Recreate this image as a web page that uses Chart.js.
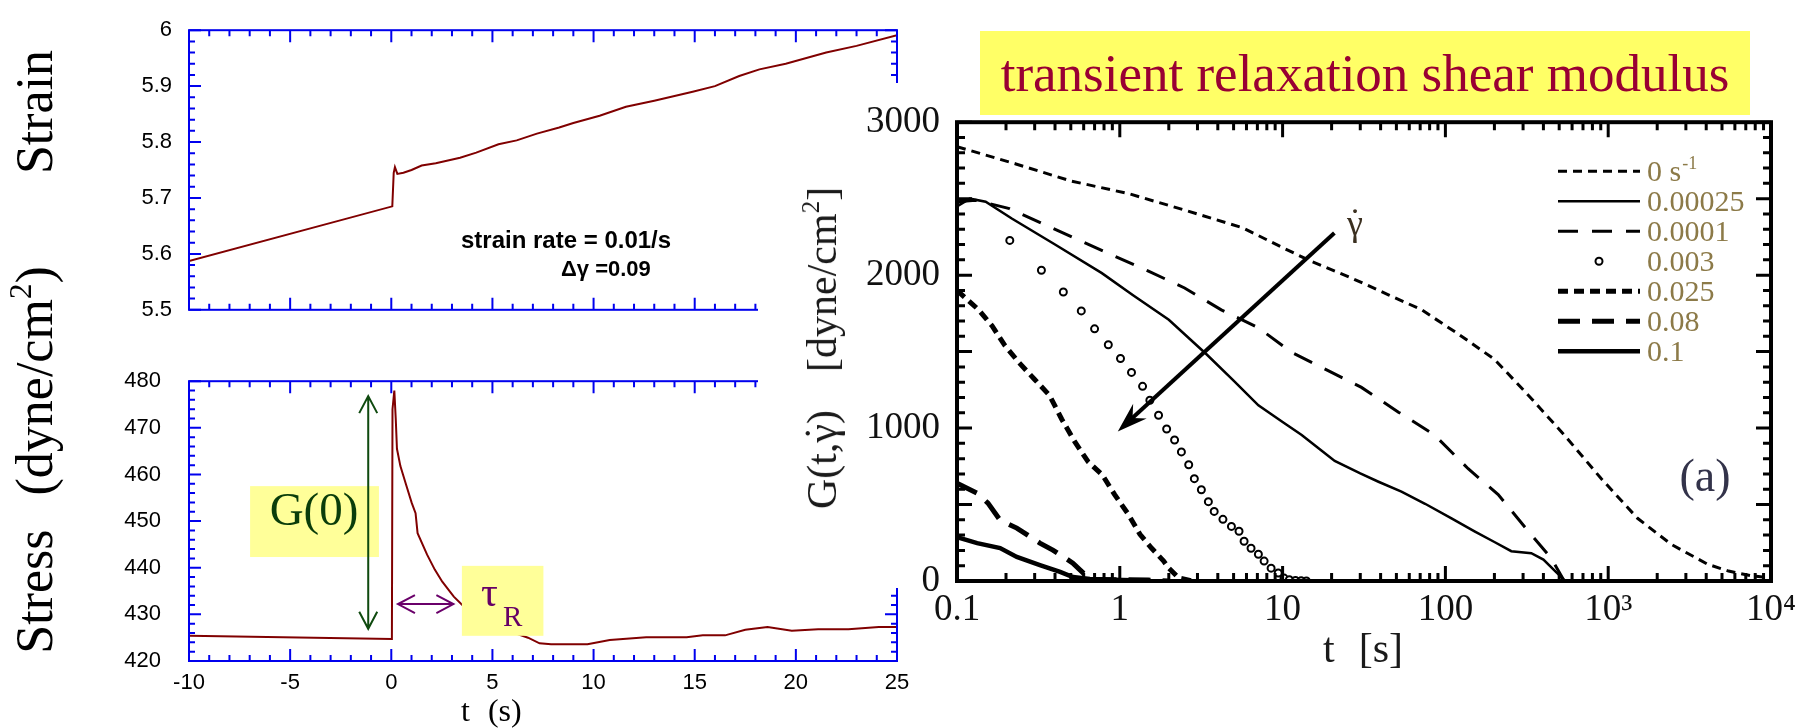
<!DOCTYPE html>
<html><head><meta charset="utf-8">
<script src="https://cdn.jsdelivr.net/npm/chart.js@4.4.1/dist/chart.umd.min.js"></script>
<style>
html,body{margin:0;padding:0;background:#fff;}
#page{position:relative;width:1813px;height:728px;overflow:hidden;background:#fff;}
canvas{position:absolute;}
.t{position:absolute;white-space:nowrap;line-height:1;z-index:4;}
.serif{font-family:'Liberation Serif','Times New Roman',serif;}
.sans{font-family:'Liberation Sans',Arial,sans-serif;}
.rot{transform:translate(-50%,-50%) rotate(-90deg);}
.dotg{position:relative;}
.dotg span{position:absolute;left:0;width:100%;top:0;text-align:center;}
</style></head>
<body><div id="page">
<canvas id="cStrain" width="920" height="340" style="left:0;top:0;z-index:1"></canvas>
<canvas id="cStress" width="920" height="388" style="left:0;top:340px;z-index:1"></canvas>
<canvas id="cG" width="1055" height="645" style="left:758px;top:83px;z-index:2"></canvas>

<div class="t serif rot" style="left:34.5px;top:112px;font-size:52px">Strain</div>
<div class="t serif rot" style="left:34.5px;top:460px;font-size:52px">Stress<span style="display:inline-block;width:34px"></span>(dyne/cm<span style="font-size:31px;position:relative;top:-21px">2</span>)</div>
<div class="t sans" style="left:461px;top:228px;font-size:24px;font-weight:bold">strain rate = 0.01/s</div>
<div class="t sans" style="left:561px;top:258px;font-size:22px;font-weight:bold">Δγ =0.09</div>
<div class="t serif" style="left:461px;top:694px;font-size:32px">t<span style="display:inline-block;width:18px"></span>(s)</div>
<div class="t serif" style="left:214px;width:200px;text-align:center;top:486px;font-size:47px;color:#0a3d0a">G(0)</div>
<div class="t serif" style="left:481px;top:571px;font-size:42px;color:#660066">τ</div>
<div class="t serif" style="left:503px;top:602px;font-size:29px;color:#660066">R</div>

<div style="position:absolute;left:980px;top:31px;width:770px;height:84px;background:#ffff66;z-index:3">
  <div class="t serif" style="left:0;width:770px;text-align:center;top:16px;font-size:53px;color:#990033">transient relaxation shear modulus</div>
</div>
<div class="t serif rot" style="left:822px;top:348px;font-size:42px;color:#1a1a1a">G(t,<span class="dotg">γ<span>˙</span></span>)<span style="display:inline-block;width:38px"></span>[dyne/cm<span style="font-size:25px;position:relative;top:-17px">2</span>]</div>
<div class="t serif" style="left:1323px;top:627px;font-size:42px;color:#1a1a1a">t<span style="display:inline-block;width:24px"></span>[s]</div>
<div class="t serif" style="left:1605px;width:200px;text-align:center;top:453px;font-size:46px;color:#33334a">(a)</div>
<div class="t serif" style="left:1347px;top:205px;font-size:36px;color:#3b3020"><span class="dotg">γ<span>˙</span></span></div>
</div>
<script>
// ---------------- data ----------------
const strainT = [-10, 0.05, 0.12, 0.18, 0.3, 0.6, 1.0, 1.5, 2.2, 3.4, 4.2, 5.3, 6.2, 7.2, 8.3, 9.0, 10.3, 11.6, 13.0, 14.9, 16.0, 17.2, 18.2, 19.5, 21.5, 23.0, 25];
const strainV = [5.587, 5.685, 5.745, 5.755, 5.743, 5.745, 5.750, 5.758, 5.762, 5.772, 5.781, 5.796, 5.803, 5.815, 5.826, 5.834, 5.847, 5.863, 5.874, 5.890, 5.900, 5.918, 5.930, 5.940, 5.960, 5.972, 5.991];

const stressT = [-10, 0.03, 0.06, 0.15, 0.22, 0.28, 0.45, 0.74, 1.01, 1.2, 1.3, 1.77, 2.15, 2.52, 3.09, 3.56, 4.2, 5.0, 5.6, 6.1, 6.76, 7.33, 7.9, 9.7, 10.8, 12.6, 14.6, 15.4, 16.5, 17.5, 18.6, 19.8, 21.1, 22.6, 24.1, 25];
const stressV = [425.4, 424.7, 474, 478, 472, 465.5, 461.8, 457.7, 453.9, 451.7, 447.4, 442.8, 439.6, 437.0, 433.8, 431.8, 429.5, 427.5, 426.5, 426.0, 425.0, 423.8, 423.6, 423.6, 424.5, 425.1, 425.1, 425.5, 425.5, 426.7, 427.3, 426.5, 426.8, 426.8, 427.3, 427.3];

const leftXTicks = [-10, -5, 0, 5, 10, 15, 20, 25];
const leftXTickLabels = ['-10', '-5', '0', '5', '10', '15', '20', '25'];
const strainYTicks = [5.5, 5.6, 5.7, 5.8, 5.9, 6];
const strainYTickLabels = ['5.5', '5.6', '5.7', '5.8', '5.9', '6'];
const stressYTicks = [420, 430, 440, 450, 460, 470, 480];
const stressYTickLabels = ['420', '430', '440', '450', '460', '470', '480'];

const rateLabels = ['0 s⁻¹', '0.00025', '0.0001', '0.003', '0.025', '0.08', '0.1'];

const tRate0 = [0.1, 0.23, 0.5, 1.15, 2.6, 5.7, 10, 15, 26, 45, 71, 120, 200, 323, 537, 905, 1514, 2437, 4074, 5480, 7500, 10000];
const gRate0 = [2840, 2727, 2616, 2531, 2420, 2309, 2180, 2090, 1985, 1870, 1775, 1615, 1450, 1215, 955, 670, 410, 240, 110, 65, 35, 20];

const tRate00025 = [0.1, 0.12, 0.15, 0.217, 0.4, 0.776, 1.2, 2.0, 3.42, 5, 7.1, 10, 13.1, 17, 20.9, 30, 38.8, 53.7, 75, 109, 151, 200, 254, 337, 400, 493, 537, 600, 700];
const gRate00025 = [2450, 2500, 2480, 2370, 2200, 2013, 1870, 1708, 1481, 1310, 1149, 1040, 955, 860, 785, 703, 649, 584, 505, 409, 325, 255, 195, 182, 140, 45, 5, 0, 0];

const tRate0001 = [0.1, 0.13, 0.21, 0.53, 1.5, 2.5, 4.2, 7.1, 11.4, 20, 30.5, 51.5, 85.7, 138, 211, 323, 447, 537, 700, 1000];
const gRate0001 = [2480, 2490, 2435, 2240, 2026, 1916, 1773, 1656, 1494, 1364, 1266, 1104, 955, 734, 565, 325, 149, 0, 0, 0];

const tRate003 = [0.211, 0.33, 0.45, 0.58, 0.70, 0.85, 1.01, 1.18, 1.38, 1.53, 1.73, 1.94, 2.17, 2.39, 2.65, 2.87, 3.17, 3.5, 3.8, 4.3, 4.85, 5.4, 5.8, 6.4, 7.1, 7.7, 8.5, 9.4, 10.2, 11, 12, 13, 14];
const gRate003 = [2227, 2032, 1890, 1766, 1649, 1545, 1455, 1364, 1273, 1182, 1084, 994, 922, 844, 760, 669, 597, 519, 455, 403, 357, 325, 260, 214, 175, 130, 84, 52, 19, 8, 4, 2, 0];

const tRate025 = [0.1, 0.136, 0.164, 0.197, 0.24, 0.30, 0.37, 0.44, 0.53, 0.64, 0.78, 0.93, 1.13, 1.33, 1.57, 1.86, 2.0, 2.3, 2.8];
const gRate025 = [1900, 1773, 1669, 1539, 1429, 1318, 1214, 1058, 909, 779, 695, 565, 435, 305, 214, 130, 84, 20, 0];

const tRate08 = [0.1, 0.133, 0.155, 0.184, 0.233, 0.323, 0.388, 0.515, 0.6, 0.7, 1.0, 1.5, 2.0];
const gRate08 = [639, 574, 509, 398, 346, 248, 202, 117, 50, 10, 8, 6, 0];

const tRate1 = [0.1, 0.133, 0.184, 0.233, 0.323, 0.43, 0.515, 0.655, 0.9, 1.2, 1.5];
const gRate1 = [287, 248, 215, 157, 104, 59, 26, 13, 8, 5, 0];

const gXTicks = [0.1, 1, 10, 100, 1000, 10000];
const gXTickLabels = ['0.1', '1', '10', '100', '10³', '10⁴'];
const gYTicks = [0, 1000, 2000, 3000];
const gYTickLabels = ['0', '1000', '2000', '3000'];

// ---------------- helpers ----------------
const pts = (xs, ys) => xs.map((x, i) => ({x: x, y: ys[i]}));
const fixTicks = vals => s => { s.ticks = vals.map(v => ({value: v})); };
const labelFrom = (vals, labels) => v => { const i = vals.indexOf(v); return i >= 0 ? labels[i] : ''; };
function range(a, b, step) { const out = []; for (let k = 0; a + k * step <= b + 1e-9; k++) out.push(+(a + k * step).toFixed(6)); return out; }
const SANS = "'Liberation Sans', Arial, sans-serif";
const SERIF = "'Liberation Serif', 'Times New Roman', serif";

function framePlugin(color, borderW, tickW, xTicks, yTicks) {
  return {
    id: 'frame',
    afterDraw(chart) {
      const {ctx, chartArea: a, scales} = chart;
      const xs = scales.x, ys = scales.y;
      ctx.save();
      ctx.strokeStyle = color;
      ctx.lineWidth = tickW;
      ctx.setLineDash([]);
      ctx.beginPath();
      xTicks.forEach(t => {
        const p = xs.getPixelForValue(t.v);
        ctx.moveTo(p, a.top); ctx.lineTo(p, a.top + t.len);
        ctx.moveTo(p, a.bottom); ctx.lineTo(p, a.bottom - t.len);
      });
      yTicks.forEach(t => {
        const p = ys.getPixelForValue(t.v);
        ctx.moveTo(a.left, p); ctx.lineTo(a.left + t.len, p);
        ctx.moveTo(a.right, p); ctx.lineTo(a.right - t.len, p);
      });
      ctx.stroke();
      ctx.lineWidth = borderW;
      ctx.strokeRect(a.left, a.top, a.right - a.left, a.bottom - a.top);
      ctx.restore();
    }
  };
}

function openHead(ctx, tx, ty, dx, dy, len, half) {
  const L = Math.hypot(dx, dy), ux = dx / L, uy = dy / L;
  const bx = tx - ux * len, by = ty - uy * len;
  ctx.moveTo(bx - uy * half, by + ux * half);
  ctx.lineTo(tx, ty);
  ctx.lineTo(bx + uy * half, by - ux * half);
}

const noGrid = {display: false, drawTicks: false};
const noBorder = {display: false};

// ---------------- strain chart ----------------
const leftXTickMarks = range(-10, 25, 1).map(v => ({v: v, len: (Math.abs(v) % 5 === 0) ? 12 : 6}));
const strainYTickMarks = range(5.5, 6, 0.02).map(v => ({v: v, len: Math.abs(Math.round(v * 10) - v * 10) < 1e-6 ? 12 : 6}));
const stressYTickMarks = range(420, 480, 2).map(v => ({v: v, len: v % 10 === 0 ? 12 : 6}));

new Chart(document.getElementById('cStrain'), {
  type: 'scatter',
  data: {datasets: [{data: pts(strainT, strainV), showLine: true, borderColor: '#800000', borderWidth: 2, pointRadius: 0}]},
  options: {
    responsive: false, animation: false, events: [],
    layout: {padding: {top: 15, right: 23, bottom: 14, left: 0}},
    plugins: {legend: {display: false}, tooltip: {enabled: false}},
    scales: {
      x: {type: 'linear', min: -10, max: 25, ticks: {display: false}, grid: noGrid, border: noBorder, afterFit: s => { s.height = 0; }},
      y: {type: 'linear', min: 5.5, max: 6, afterBuildTicks: fixTicks(strainYTicks),
          ticks: {padding: 17, color: '#000', font: {family: SANS, size: 22}, callback: labelFrom(strainYTicks, strainYTickLabels)},
          grid: noGrid, border: noBorder, afterFit: s => { s.width = 189; }}
    }
  },
  plugins: [framePlugin('#0000ee', 2, 2, leftXTickMarks, strainYTickMarks)]
});

// ---------------- stress chart ----------------
const stressAnnot = {
  id: 'stressAnnot',
  afterDatasetsDraw(chart) {
    const {ctx, scales: {x, y}} = chart;
    const box = (t0, t1, s0, s1) => {
      const X0 = x.getPixelForValue(t0), X1 = x.getPixelForValue(t1);
      const Y0 = y.getPixelForValue(s0), Y1 = y.getPixelForValue(s1);
      ctx.fillRect(Math.min(X0, X1), Math.min(Y0, Y1), Math.abs(X1 - X0), Math.abs(Y1 - Y0));
    };
    ctx.save();
    ctx.fillStyle = '#ffff99';
    box(-6.98, -0.61, 457.5, 442.3);
    box(3.49, 7.52, 440.4, 425.4);
    ctx.strokeStyle = '#0f4a0f'; ctx.lineWidth = 2;
    let gx = x.getPixelForValue(-1.14), gy1 = y.getPixelForValue(476.8), gy2 = y.getPixelForValue(426.9);
    ctx.beginPath();
    ctx.moveTo(gx, gy1); ctx.lineTo(gx, gy2);
    openHead(ctx, gx, gy1, 0, -1, 17, 9);
    openHead(ctx, gx, gy2, 0, 1, 17, 9);
    ctx.stroke();
    ctx.strokeStyle = '#6a006a';
    let px1 = x.getPixelForValue(0.33), px2 = x.getPixelForValue(3.07), py = y.getPixelForValue(432.2);
    ctx.beginPath();
    ctx.moveTo(px1, py); ctx.lineTo(px2, py);
    openHead(ctx, px1, py, -1, 0, 17, 9);
    openHead(ctx, px2, py, 1, 0, 17, 9);
    ctx.stroke();
    ctx.restore();
  }
};

new Chart(document.getElementById('cStress'), {
  type: 'scatter',
  data: {datasets: [{data: pts(stressT, stressV), showLine: true, borderColor: '#800000', borderWidth: 2, pointRadius: 0}]},
  options: {
    responsive: false, animation: false, events: [],
    layout: {padding: {top: 12, right: 23, bottom: 0, left: 0}},
    plugins: {legend: {display: false}, tooltip: {enabled: false}},
    scales: {
      x: {type: 'linear', min: -10, max: 25, afterBuildTicks: fixTicks(leftXTicks),
          ticks: {padding: 9, color: '#000', maxRotation: 0, autoSkip: false, font: {family: SANS, size: 22}, callback: labelFrom(leftXTicks, leftXTickLabels)},
          grid: noGrid, border: noBorder, afterFit: s => { s.height = 67; }},
      y: {type: 'linear', min: 420, max: 480, afterBuildTicks: fixTicks(stressYTicks),
          ticks: {padding: 28, color: '#000', font: {family: SANS, size: 22}, callback: labelFrom(stressYTicks, stressYTickLabels)},
          grid: noGrid, border: noBorder, afterFit: s => { s.width = 189; }}
    }
  },
  plugins: [stressAnnot, framePlugin('#0000ee', 2, 2, leftXTickMarks, stressYTickMarks)]
});

// ---------------- G(t) chart ----------------
const gXTickMarks = [];
for (let d = -1; d <= 3; d++) for (let m = 1; m <= 9; m++) gXTickMarks.push({v: m * Math.pow(10, d), len: m === 1 ? 15 : 8});
gXTickMarks.push({v: 10000, len: 15});
const gYTickMarks = range(0, 3000, 100).map(v => ({v: v, len: v % 500 === 0 ? 15 : 8}));

const whiteBg = {
  id: 'whiteBg',
  beforeDraw(chart) {
    const ctx = chart.ctx;
    ctx.save(); ctx.fillStyle = '#fff'; ctx.fillRect(0, 0, chart.width, 505); ctx.restore();
  }
};

const gAnnot = {
  id: 'gAnnot',
  afterDatasetsDraw(chart) {
    const {ctx, scales: {x, y}} = chart;
    const x1 = x.getPixelForValue(20.8), y1 = y.getPixelForValue(2276);
    const x2 = x.getPixelForValue(0.972), y2 = y.getPixelForValue(978);
    const dx = x2 - x1, dy = y2 - y1, L = Math.hypot(dx, dy), ux = dx / L, uy = dy / L;
    ctx.save();
    ctx.strokeStyle = '#000'; ctx.fillStyle = '#000'; ctx.lineWidth = 4; ctx.setLineDash([]);
    ctx.beginPath(); ctx.moveTo(x1, y1); ctx.lineTo(x2 - ux * 12, y2 - uy * 12); ctx.stroke();
    const bx = x2 - ux * 30, by = y2 - uy * 30, nx = x2 - ux * 20, ny = y2 - uy * 20;
    ctx.beginPath();
    ctx.moveTo(x2, y2);
    ctx.lineTo(bx - uy * 10, by + ux * 10);
    ctx.lineTo(nx, ny);
    ctx.lineTo(bx + uy * 10, by - ux * 10);
    ctx.closePath(); ctx.fill();
    ctx.restore();
  },
  afterDraw(chart) {
    const {ctx, chartArea: a} = chart;
    ctx.save();
    const lx1 = a.right - 213, lx2 = a.right - 131, tx = a.right - 124;
    chart.data.datasets.forEach((ds, i) => {
      const ry = a.top + 49 + 30 * i;
      ctx.strokeStyle = '#000'; ctx.fillStyle = '#fff';
      if (ds.showLine === false) {
        ctx.setLineDash([]); ctx.lineWidth = 2;
        ctx.beginPath(); ctx.arc((lx1 + lx2) / 2, ry, 3.5, 0, Math.PI * 2); ctx.fill(); ctx.stroke();
      } else {
        ctx.setLineDash(ds.borderDash || []); ctx.lineWidth = ds.borderWidth;
        ctx.beginPath(); ctx.moveTo(lx1, ry); ctx.lineTo(lx2, ry); ctx.stroke();
      }
      ctx.setLineDash([]);
      ctx.fillStyle = '#8c7a48';
      ctx.textBaseline = 'alphabetic'; ctx.textAlign = 'left';
      const lab = ds.label;
      const m = lab.match(/^(.*?)([⁻¹]+)$/);
      ctx.font = '30px ' + SERIF;
      if (m) {
        ctx.fillText(m[1], tx, ry + 10);
        const w = ctx.measureText(m[1]).width;
        ctx.font = '18px ' + SERIF;
        ctx.fillText(m[2].replace('⁻', '-').replace('¹', '1'), tx + w + 1, ry - 2);
      } else {
        ctx.fillText(lab, tx, ry + 10);
      }
    });
    ctx.restore();
  }
};

new Chart(document.getElementById('cG'), {
  type: 'scatter',
  data: {datasets: [
    {label: rateLabels[0], data: pts(tRate0, gRate0), showLine: true, borderColor: '#000', borderWidth: 3, borderDash: [9, 6], pointRadius: 0},
    {label: rateLabels[1], data: pts(tRate00025, gRate00025), showLine: true, borderColor: '#000', borderWidth: 2.5, pointRadius: 0},
    {label: rateLabels[2], data: pts(tRate0001, gRate0001), showLine: true, borderColor: '#000', borderWidth: 3, borderDash: [20, 14], pointRadius: 0},
    {label: rateLabels[3], data: pts(tRate003, gRate003), showLine: false, pointRadius: 3.5, pointBorderWidth: 2, pointBorderColor: '#000', pointBackgroundColor: '#fff'},
    {label: rateLabels[4], data: pts(tRate025, gRate025), showLine: true, borderColor: '#000', borderWidth: 5, borderDash: [10, 6], pointRadius: 0},
    {label: rateLabels[5], data: pts(tRate08, gRate08), showLine: true, borderColor: '#000', borderWidth: 5, borderDash: [22, 12], pointRadius: 0},
    {label: rateLabels[6], data: pts(tRate1, gRate1), showLine: true, borderColor: '#000', borderWidth: 4.5, pointRadius: 0}
  ]},
  options: {
    responsive: false, animation: false, events: [],
    layout: {padding: {top: 38, right: 42, bottom: 0, left: 0}},
    plugins: {legend: {display: false}, tooltip: {enabled: false}},
    scales: {
      x: {type: 'logarithmic', min: 0.1, max: 10000, afterBuildTicks: fixTicks(gXTicks),
          ticks: {padding: 7, color: '#111', maxRotation: 0, autoSkip: false, font: {family: SERIF, size: 37}, callback: labelFrom(gXTicks, gXTickLabels)},
          grid: noGrid, border: noBorder, afterFit: s => { s.height = 147; }},
      y: {type: 'linear', min: 0, max: 3000, afterBuildTicks: fixTicks(gYTicks),
          ticks: {padding: 17, color: '#111', font: {family: SERIF, size: 37}, callback: labelFrom(gYTicks, gYTickLabels)},
          grid: noGrid, border: noBorder, afterFit: s => { s.width = 199; }}
    }
  },
  plugins: [whiteBg, gAnnot, framePlugin('#000', 4, 3, gXTickMarks, gYTickMarks)]
});
</script>
</body></html>
